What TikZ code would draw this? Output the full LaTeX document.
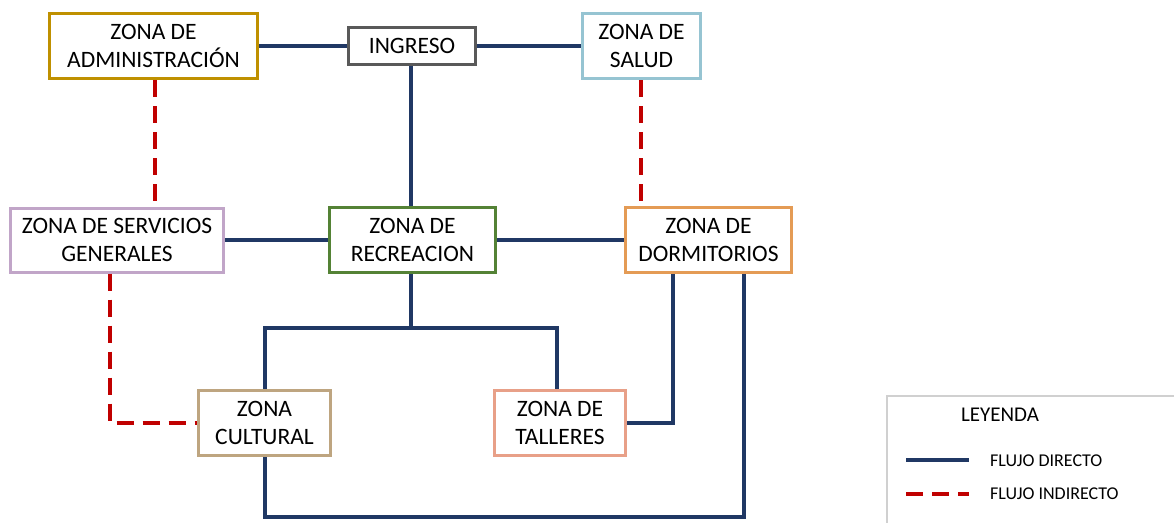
\documentclass[tikz,border=0pt]{standalone}
\usepackage{fontspec}
\setmainfont{Carlito}
\definecolor{navy}{RGB}{32,56,100}
\definecolor{redd}{RGB}{192,0,0}
\definecolor{cadmin}{RGB}{191,144,0}
\definecolor{cing}{RGB}{89,89,89}
\definecolor{csalud}{RGB}{150,196,210}
\definecolor{cserv}{RGB}{193,165,200}
\definecolor{crecr}{RGB}{84,130,53}
\definecolor{cdorm}{RGB}{228,155,85}
\definecolor{ccult}{RGB}{190,165,128}
\definecolor{ctall}{RGB}{232,160,136}
\definecolor{clegb}{RGB}{208,208,208}
\begin{document}
\begin{tikzpicture}[x=1pt,y=-1pt,
  zone/.style={draw=#1,line width=3pt,fill=white,align=center,inner sep=0pt,
    font=\fontsize{23.5}{28}\selectfont},
  direct/.style={draw=navy,line width=3.2pt},
  indirect/.style={draw=redd,line width=3.2pt,dash pattern=on 17pt off 9pt},
  legtext/.style={font=\fontsize{18}{22}\selectfont,anchor=west,inner sep=0pt}]
\useasboundingbox (0,0) rectangle (1174,522);
% nodes
\node[zone=cadmin,minimum width=208pt,minimum height=65pt] (admin) at (153.5,46) {ZONA DE\\ADMINISTRACIÓN};
\node[zone=cing,minimum width=127pt,minimum height=37pt] (ing) at (412,46) {INGRESO};
\node[zone=csalud,minimum width=118pt,minimum height=65pt] (salud) at (641.5,46) {ZONA DE\\SALUD};
\node[zone=cserv,minimum width=213pt,minimum height=64pt] (serv) at (117,240) {ZONA DE SERVICIOS\\GENERALES};
\node[zone=crecr,minimum width=166pt,minimum height=65pt] (recr) at (412.5,240) {ZONA DE\\RECREACION};
\node[zone=cdorm,minimum width=166pt,minimum height=65pt] (dorm) at (708.5,240) {ZONA DE\\DORMITORIOS};
\node[zone=ccult,minimum width=132pt,minimum height=65pt] (cult) at (264.5,423) {ZONA\\CULTURAL};
\node[zone=ctall,minimum width=131pt,minimum height=65pt] (tall) at (560,423) {ZONA DE\\TALLERES};
% coordinates
\coordinate (j1) at (411,328);
\coordinate (jl) at (265,328);
\coordinate (jr) at (557,328);
\coordinate (sv) at (110,423);
\coordinate (dt) at (673,423);
\coordinate (db) at (744,517);
\coordinate (cb) at (265,517);
% direct connectors
\draw[direct] (admin.east) -- (ing.west);
\draw[direct] (ing.east) -- (salud.west);
\draw[direct] (ing.south -| j1) -- (recr.north -| j1);
\draw[direct] (serv.east) -- (recr.west);
\draw[direct] (recr.east) -- (dorm.west);
\draw[direct] (recr.south -| j1) -- (j1);
\draw[direct] (cult.north -| jl) -- (jl) -- (jr) -- (tall.north -| jr);
\draw[direct] (dorm.south -| dt) -- (dt) -- (tall.east |- dt);
\draw[direct] (dorm.south -| db) -- (db) -- (cb) -- (cult.south -| cb);
% indirect
\draw[indirect] (admin.south -| 155,0) -- (serv.north -| 155,0);
\draw[indirect] (salud.south -| 641,0) -- (dorm.north -| 641,0);
\draw[indirect] (serv.south -| sv) -- (sv) -- (cult.west |- sv);
% legend
\coordinate (lgA) at (1176,396);
\coordinate (lgB) at (887,396);
\coordinate (lgC) at (887,524);
\draw[clegb,line width=1.2pt] (lgA) -- (lgB) -- (lgC);
\node[font=\fontsize{21}{25}\selectfont,inner sep=0pt] (leg) at (1000,415) {LEYENDA};
\coordinate (l1a) at (906,460);
\coordinate (l1b) at (969,460);
\coordinate (l2a) at (906,494);
\coordinate (l2b) at (969,494);
\draw[direct] (l1a) -- (l1b);
\draw[indirect] (l2a) -- (l2b);
\node[legtext] (t1) at (990,461) {FLUJO DIRECTO};
\node[legtext] (t2) at (990,494) {FLUJO INDIRECTO};
\end{tikzpicture}
\end{document}
